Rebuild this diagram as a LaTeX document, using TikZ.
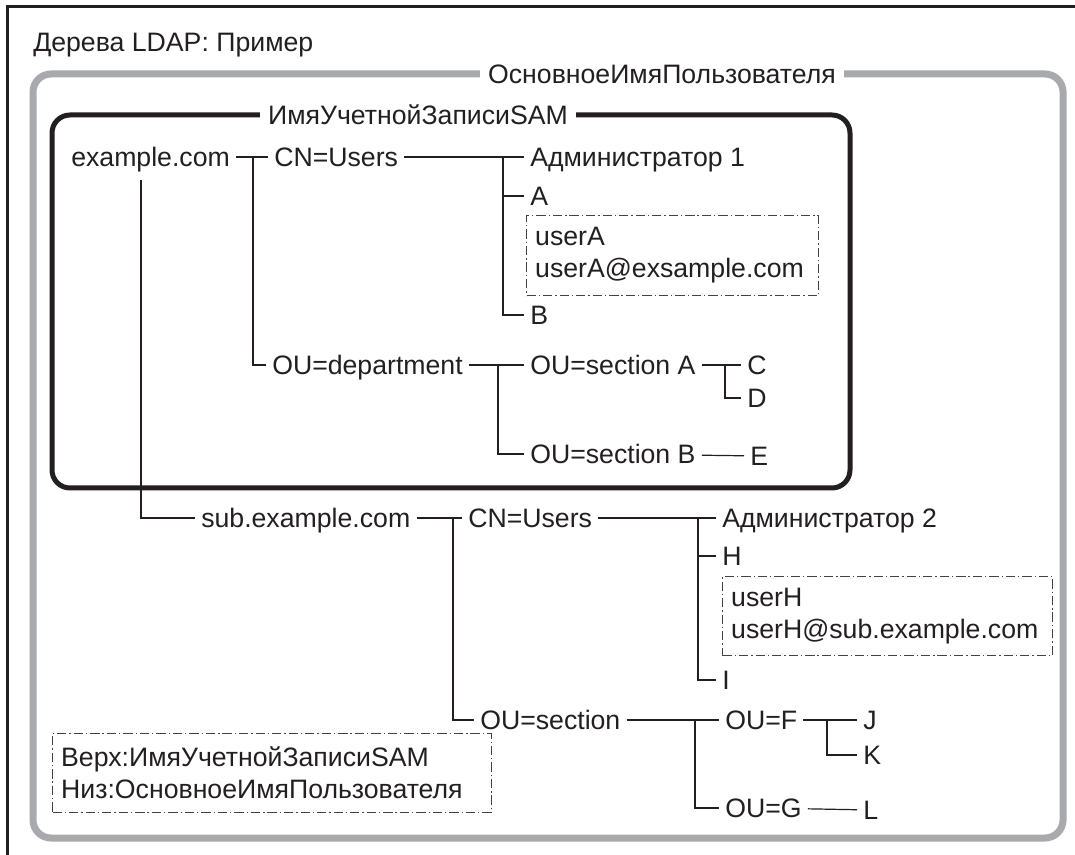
\documentclass[tikz,border=0pt]{standalone}
\usepackage{fontspec}
\setmainfont{Liberation Sans}
\usepackage{xcolor}
\usepackage{tikz}
\usetikzlibrary{calc}
\definecolor{ink}{HTML}{231F20}
\definecolor{upngray}{HTML}{A7A9AC}
\tikzset{
  lbl/.style={anchor=west,inner xsep=4.5pt,inner ysep=0pt,text height=14.3pt,text depth=0pt,font=\fontsize{20}{24}\selectfont,text=ink},
  dbox/.style={draw=ink!85,line width=0.8pt,dash pattern=on 7pt off 2.2pt on 1pt off 2.2pt,anchor=north west,align=left,inner xsep=6.5pt,font=\fontsize{20}{24}\selectfont,text=ink},
  conn/.style={draw=ink,line width=0.9pt},
  frametag/.style={fill=white,inner xsep=6pt,inner ysep=1pt,text height=14.3pt,text depth=0pt,font=\fontsize{20}{24}\selectfont,text=ink}
}

\begin{document}
\begin{tikzpicture}[x=0.75pt,y=-0.75pt]
          \useasboundingbox (0,0) rectangle (1075,855);
          %% page frame (top and left only)
          \draw[ink,line width=2.25pt] (1075,7) -- (7,7) -- (7,855);
          \node[lbl] (title) at (27,42) {Дерева LDAP: Пример};
          %% outer (UPN) and inner (SAM) frames
          \draw[upngray,line width=5.25pt,rounded corners=13.5pt] (33,74) rectangle (1063,838);
          \node[frametag] (tagUPN) at (662,74) {ОсновноеИмяПользователя};
          \draw[ink,line width=3.75pt,rounded corners=13.5pt] (52,115) rectangle (850,488);
          \node[frametag] (tagSAM) at (418,115) {ИмяУчетнойЗаписиSAM};
          %% example.com
          \node[lbl] (ex) at (65,157) {example.com};
          \node[lbl] (cnA) at (268,157) {CN=Users};
          \node[lbl] (admA) at (524,157) {Администратор 1};
          \node[lbl] (uA) at (524,196) {A};
          \node[dbox,text width=206pt,minimum height=60pt] (boxA) at (526,215) {userA\\userA@exsample.com};
          \node[lbl] (uB) at (524,315) {B};
          \node[lbl] (dep) at (266,365) {OU=department};
          \node[lbl] (secA) at (524,365) {OU=section A};
          \node[lbl] (uC) at (741,365) {C};
          \node[lbl] (uD) at (741,398) {D};
          \node[lbl] (secB) at (524,454) {OU=section B};
          \node[lbl] (uE) at (744,456) {E};
          %% sub.example.com
          \node[lbl] (sub) at (195,518) {sub.example.com};
          \node[lbl] (cnB) at (462,518) {CN=Users};
          \node[lbl] (admB) at (716,518) {Администратор 2};
          \node[lbl] (uH) at (716,556) {H};
          \node[dbox,text width=234.5pt,minimum height=59.25pt] (boxH) at (722,576) {userH\\userH@sub.example.com};
          \node[lbl] (uI) at (716,680) {I};
          \node[lbl] (sec) at (474,720) {OU=section};
          \node[lbl] (ouF) at (719,720) {OU=F};
          \node[lbl] (uJ) at (857,720) {J};
          \node[lbl] (uK) at (857,755) {K};
          \node[lbl] (ouG) at (719,808) {OU=G};
          \node[lbl] (uL) at (857,810) {L};
          %% legend
          \node[dbox,text width=316pt,minimum height=59.25pt] (legend) at (52,733) {Верх:ИмяУчетнойЗаписиSAM\\Низ:ОсновноеИмяПользователя};
          %% branch points
          \coordinate (t0) at (141,180);
          \coordinate (t1) at (253,157);
          \coordinate (t2) at (503,157);
          \coordinate (t3) at (498,365);
          \coordinate (t4) at (725,365);
          \coordinate (t5) at (453,518);
          \coordinate (t6) at (698,518);
          \coordinate (t7) at (695,720);
          \coordinate (t8) at (827,720);
          %% connectors
          \draw[conn](ex)--(cnA);\draw[conn](cnA)--(admA);\draw[conn](t1)|-(dep);
          \draw[conn](t2)|-(uA);\draw[conn](t2)|-(uB);
          \draw[conn](dep)--(secA);\draw[conn](t3)|-(secB);
          \draw[conn](secA)--(uC);\draw[conn](t4)|-(uD);\draw[conn](secB)--(uE);
          \draw[conn](t0)|-(sub);
          \draw[conn](sub)--(cnB);\draw[conn](cnB)--(admB);\draw[conn](t5)|-(sec);
          \draw[conn](t6)|-(uH);\draw[conn](t6)|-(uI);
          \draw[conn](sec)--(ouF);\draw[conn](t7)|-(ouG);
          \draw[conn](ouF)--(uJ);\draw[conn](t8)|-(uK);\draw[conn](ouG)--(uL);
        \end{tikzpicture}
\end{document}
